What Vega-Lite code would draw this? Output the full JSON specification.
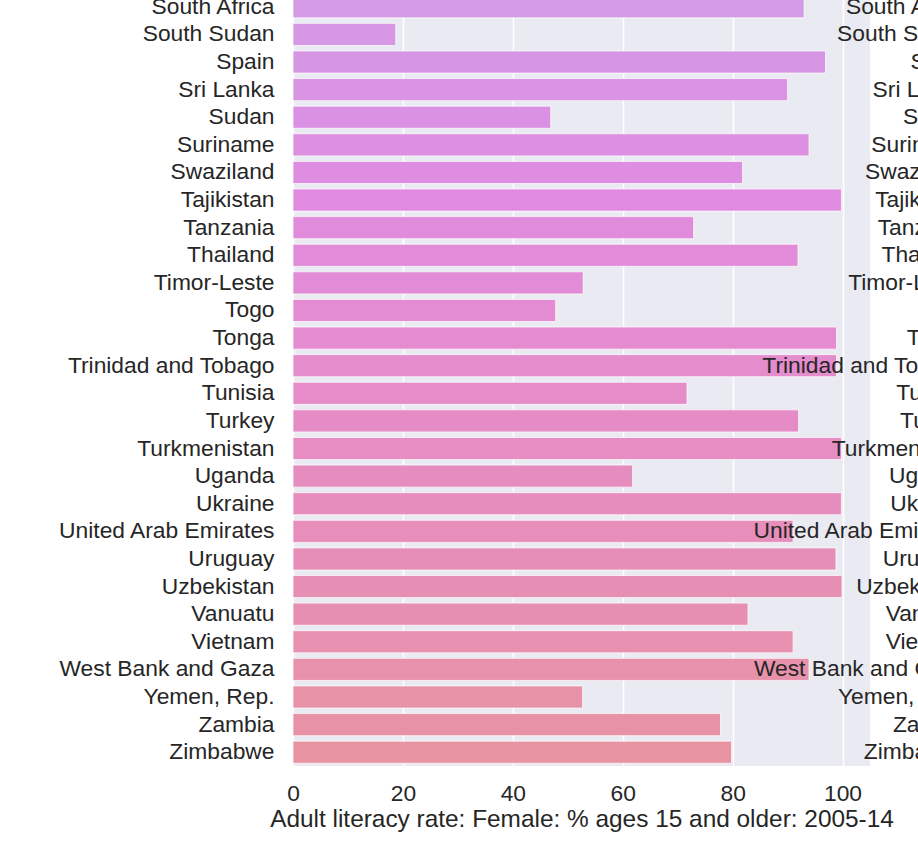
{
  "$schema": "https://vega.github.io/schema/vega-lite/v6.json",
  "autosize": {"type": "none"},
  "padding": {"left": 293, "top": -7, "right": 48, "bottom": 78},
  "width": 577,
  "height": 773,
  "background": "white",
  "config": {
    "font": "Liberation Sans",
    "view": {"fill": "#EAEAF2", "stroke": null}
  },
  "data": {
    "values": [
      {"country": "South Africa", "value": 93.0},
      {"country": "South Sudan", "value": 18.7},
      {"country": "Spain", "value": 96.9},
      {"country": "Sri Lanka", "value": 90.0},
      {"country": "Sudan", "value": 46.9},
      {"country": "Suriname", "value": 93.9},
      {"country": "Swaziland", "value": 81.8},
      {"country": "Tajikistan", "value": 99.8},
      {"country": "Tanzania", "value": 72.9},
      {"country": "Thailand", "value": 91.9},
      {"country": "Timor-Leste", "value": 52.8},
      {"country": "Togo", "value": 47.8},
      {"country": "Tonga", "value": 98.9},
      {"country": "Trinidad and Tobago", "value": 98.9},
      {"country": "Tunisia", "value": 71.7},
      {"country": "Turkey", "value": 92.0},
      {"country": "Turkmenistan", "value": 99.8},
      {"country": "Uganda", "value": 61.8},
      {"country": "Ukraine", "value": 99.8},
      {"country": "United Arab Emirates", "value": 91.0},
      {"country": "Uruguay", "value": 98.8},
      {"country": "Uzbekistan", "value": 99.9},
      {"country": "Vanuatu", "value": 82.8},
      {"country": "Vietnam", "value": 91.0},
      {"country": "West Bank and Gaza", "value": 93.9},
      {"country": "Yemen, Rep.", "value": 52.7},
      {"country": "Zambia", "value": 77.8},
      {"country": "Zimbabwe", "value": 79.8}
    ]
  },
  "encoding": {
    "y": {
      "field": "country",
      "type": "nominal",
      "sort": null,
      "scale": {"paddingInner": 0.2, "paddingOuter": 0.1},
      "axis": {
        "title": null,
        "domain": false,
        "ticks": false,
        "tickSize": 0,
        "grid": false,
        "labelFontSize": 22.8,
        "labelColor": "#262626",
        "labelPadding": 19,
        "labelLimit": 500
      }
    }
  },
  "layer": [
    {
      "mark": {"type": "bar", "stroke": "#FFFFFF", "strokeWidth": 1, "strokeOpacity": 0.7},
      "encoding": {
        "x": {
          "field": "value",
          "type": "quantitative",
          "scale": {"domain": [0, 105], "nice": false, "zero": true},
          "axis": {
            "title": "Adult literacy rate: Female: % ages 15 and older: 2005-14",
            "values": [0, 20, 40, 60, 80, 100],
            "domain": false,
            "ticks": false,
            "tickSize": 0,
            "grid": true,
            "gridColor": "#FFFFFF",
            "gridWidth": 1.5,
            "labelFlush": false,
            "labelFontSize": 22.8,
            "labelColor": "#262626",
            "labelPadding": 16,
            "titleFontSize": 24.4,
            "titleFontWeight": "normal",
            "titleColor": "#262626",
            "titlePadding": 3
          }
        },
        "color": {
          "field": "country",
          "type": "nominal",
          "sort": null,
          "legend": null,
          "scale": {
            "range": ["#D49AE6", "#D698E5", "#D796E4", "#D994E3", "#DB91E3", "#DD8FE2", "#DE8DE1", "#E08BE0", "#E18BDD", "#E18BD9", "#E28BD6", "#E38BD3", "#E48CCF", "#E48CCC", "#E58CC9", "#E58CC6", "#E68DC3", "#E68DC0", "#E68DBE", "#E78EBB", "#E78EB8", "#E78EB5", "#E78FB2", "#E790AF", "#E891AB", "#E892A8", "#E892A5", "#E893A2"]
          }
        }
      }
    },
    {
      "mark": {"type": "text", "align": "right", "baseline": "middle", "fontSize": 22.8, "color": "#262626"},
      "encoding": {
        "x": {"datum": 123, "type": "quantitative"},
        "text": {"field": "country", "type": "nominal"}
      }
    }
  ]
}
